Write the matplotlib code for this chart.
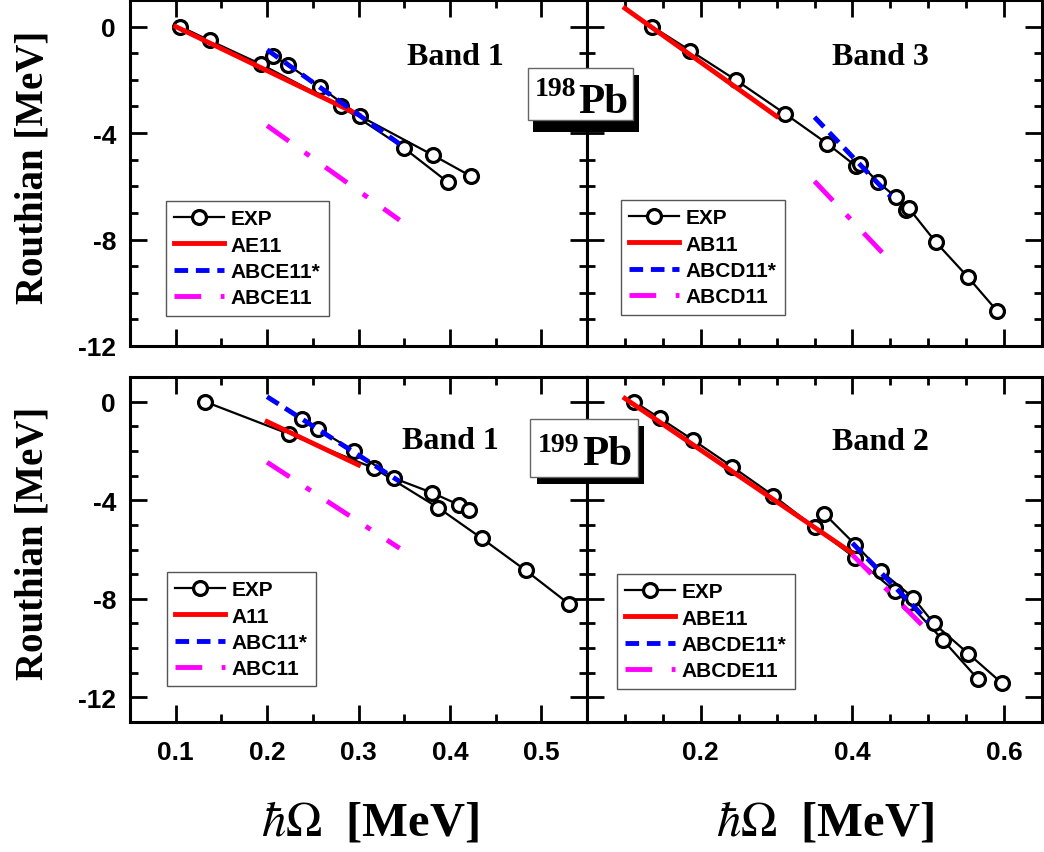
import numpy as np
import matplotlib
matplotlib.use("Agg")
import matplotlib.pyplot as plt
from matplotlib.patches import Rectangle
from matplotlib.ticker import MultipleLocator, FixedLocator

plt.rcParams['font.family'] = ['Liberation Sans', 'DejaVu Sans']
plt.rcParams['mathtext.fontset'] = 'stix'

# ---- 198Pb, Band 1 ----
a_exp1_x = [0.105, 0.137, 0.193, 0.281, 0.350, 0.398]
a_exp1_y = [0.0, -0.52, -1.41, -3.00, -4.57, -5.85]
a_exp2_x = [0.206, 0.223, 0.258, 0.302, 0.382, 0.423]
a_exp2_y = [-1.09, -1.44, -2.27, -3.37, -4.84, -5.62]
a_red_x, a_red_y = [0.10, 0.30], [0.0, -3.31]
a_blue_x, a_blue_y = [0.20, 0.345], [-0.87, -4.41]
a_mag_x, a_mag_y = [0.20, 0.345], [-3.72, -7.27]
a_labels = ['EXP', 'AE11', 'ABCE11*', 'ABCE11']

# ---- 198Pb, Band 3 ----
b_exp1_x = [0.136, 0.186, 0.247, 0.311, 0.367, 0.405, 0.410, 0.434, 0.458,
            0.470, 0.474, 0.510, 0.552, 0.591]
b_exp1_y = [0.0, -0.90, -2.02, -3.27, -4.40, -5.25, -5.15, -5.85, -6.42,
            -6.90, -6.81, -8.10, -9.40, -10.69]
b_exp2_x, b_exp2_y = [], []
b_red_x, b_red_y = [0.10, 0.30], [0.69, -3.37]
b_blue_x, b_blue_y = [0.35, 0.45], [-3.40, -6.37]
b_mag_x, b_mag_y = [0.35, 0.45], [-5.81, -8.81]
b_labels = ['EXP', 'AB11', 'ABCD11*', 'ABCD11']

# ---- 199Pb, Band 1 ----
c_exp1_x = [0.132, 0.2245, 0.317, 0.387, 0.435, 0.483, 0.530]
c_exp1_y = [0.0, -1.32, -2.70, -4.30, -5.55, -6.85, -8.20]
c_exp2_x = [0.238, 0.256, 0.295, 0.339, 0.380, 0.410, 0.421]
c_exp2_y = [-0.72, -1.12, -2.00, -3.11, -3.69, -4.19, -4.39]
c_red_x, c_red_y = [0.20, 0.30], [-0.81, -2.57]
c_blue_x, c_blue_y = [0.20, 0.345], [0.20, -3.24]
c_mag_x, c_mag_y = [0.20, 0.345], [-2.46, -5.95]
c_labels = ['EXP', 'A11', 'ABC11*', 'ABC11']

# ---- 199Pb, Band 2 ----
d_exp1_x = [0.112, 0.1465, 0.190, 0.2415, 0.2955, 0.350, 0.404, 0.4565,
            0.474, 0.519, 0.565]
d_exp1_y = [0.0, -0.68, -1.56, -2.64, -3.81, -5.10, -6.35, -7.70,
            -8.18, -9.66, -11.24]
d_exp2_x = [0.363, 0.404, 0.438, 0.480, 0.507, 0.553, 0.597]
d_exp2_y = [-4.55, -5.81, -6.89, -7.95, -8.99, -10.23, -11.42]
d_red_x, d_red_y = [0.10, 0.40], [0.13, -6.15]
d_blue_x, d_blue_y = [0.40, 0.50], [-5.74, -8.92]
d_mag_x, d_mag_y = [0.40, 0.50], [-6.22, -9.32]
d_labels = ['EXP', 'ABE11', 'ABCDE11*', 'ABCDE11']

W, H = 1044, 853
fig = plt.figure(figsize=(W / 100, H / 100), dpi=100)


def fx(px):
    return px / W


def fy(py):
    return 1 - py / H


ax_a = fig.add_axes([fx(130), fy(347), fx(587) - fx(130), fy(1) - fy(347)])
ax_b = fig.add_axes([fx(587), fy(347), fx(1042) - fx(587), fy(1) - fy(347)])
ax_c = fig.add_axes([fx(130), fy(723), fx(587) - fx(130), fy(378) - fy(723)])
ax_d = fig.add_axes([fx(587), fy(723), fx(1042) - fx(587), fy(378) - fy(723)])


def draw_panel(ax, exp1, exp2, red, blue, mag, labels, band, band_pos, leg_pos):
    mk = dict(color='black', lw=1.6, marker='o', ms=10, mfc='white',
              mec='black', mew=2.3, zorder=2)
    ax.plot(exp1[0], exp1[1], label=labels[0], **mk)
    if len(exp2[0]):
        ax.plot(exp2[0], exp2[1], **mk)
    ax.plot(red[0], red[1], color='#ff0000', lw=3.5, label=labels[1], zorder=3)
    ax.plot(blue[0], blue[1], color='#0000ff', lw=3.5, ls=(0, (2.8, 1.6)),
            label=labels[2], zorder=3)
    ax.plot(mag[0], mag[1], color='#ff00ff', lw=3.5, ls=(0, (5.5, 4, 1.2, 4)),
            label=labels[3], zorder=3)
    ax.text(band_pos[0], band_pos[1], band, transform=ax.transAxes,
            ha='center', va='baseline', fontsize=23, fontweight='bold',
            family='Liberation Serif')
    leg = ax.legend(loc='upper left', bbox_to_anchor=leg_pos, borderaxespad=0,
                    fancybox=False, framealpha=1, edgecolor='#555555',
                    handlelength=2.4, handletextpad=0.3, labelspacing=0.35,
                    borderpad=0.4, numpoints=1,
                    prop={'family': 'Liberation Sans', 'weight': 'bold', 'size': 15})
    leg.get_frame().set_linewidth(1.0)

    for s in ax.spines.values():
        s.set_linewidth(2.2)
    ax.tick_params(axis='both', which='both', direction='in', top=True,
                   right=True, width=2, labelsize=19)
    ax.tick_params(which='major', length=12)
    ax.tick_params(which='minor', length=6)
    ax.yaxis.set_major_locator(MultipleLocator(4))
    ax.yaxis.set_minor_locator(MultipleLocator(1))
    ax.tick_params(axis='y', pad=10)
    ax.tick_params(axis='x', pad=13)


draw_panel(ax_a, (a_exp1_x, a_exp1_y), (a_exp2_x, a_exp2_y), (a_red_x, a_red_y),
           (a_blue_x, a_blue_y), (a_mag_x, a_mag_y), a_labels, 'Band 1',
           (0.711, 0.815), (0.079, 0.419))
draw_panel(ax_b, (b_exp1_x, b_exp1_y), (b_exp2_x, b_exp2_y), (b_red_x, b_red_y),
           (b_blue_x, b_blue_y), (b_mag_x, b_mag_y), b_labels, 'Band 3',
           (0.646, 0.815), (0.075, 0.422))
draw_panel(ax_c, (c_exp1_x, c_exp1_y), (c_exp2_x, c_exp2_y), (c_red_x, c_red_y),
           (c_blue_x, c_blue_y), (c_mag_x, c_mag_y), c_labels, 'Band 1',
           (0.702, 0.794), (0.081, 0.435))
draw_panel(ax_d, (d_exp1_x, d_exp1_y), (d_exp2_x, d_exp2_y), (d_red_x, d_red_y),
           (d_blue_x, d_blue_y), (d_mag_x, d_mag_y), d_labels, 'Band 2',
           (0.646, 0.791), (0.066, 0.429))

for ax in (ax_a, ax_c):
    ax.set_xlim(0.05, 0.55)
    ax.xaxis.set_major_locator(MultipleLocator(0.1))
    ax.xaxis.set_minor_locator(MultipleLocator(0.05))
for ax in (ax_b, ax_d):
    ax.set_xlim(0.05, 0.65)
    ax.xaxis.set_major_locator(FixedLocator([0.2, 0.4, 0.6]))
    ax.xaxis.set_minor_locator(MultipleLocator(0.05))
    ax.tick_params(axis='y', labelleft=False)
for ax in (ax_a, ax_b):
    ax.set_ylim(-12, 1)
    ax.tick_params(axis='x', labelbottom=False)
for ax in (ax_c, ax_d):
    ax.set_ylim(-13, 1)

ax_c.set_xticks([0.1, 0.2, 0.3, 0.4, 0.5])
ax_c.set_xticklabels(['0.1', '0.2', '0.3', '0.4', '0.5'], fontweight='bold')
ax_d.set_xticks([0.2, 0.4, 0.6])
ax_d.set_xticklabels(['0.2', '0.4', '0.6'], fontweight='bold')
for ax in (ax_a, ax_c):
    ax.set_yticks([0, -4, -8, -12])
    ax.set_yticklabels(['0', '-4', '-8', '-12'], fontweight='bold')

# axis titles
serif = 'Liberation Serif'
fig.text(fx(33), fy(167), 'Routhian [MeV]', rotation=90, ha='center',
         va='center', fontsize=28, fontweight='bold', family=serif)
fig.text(fx(33), fy(543), 'Routhian [MeV]', rotation=90, ha='center',
         va='center', fontsize=28, fontweight='bold', family=serif)
fig.text(fx(370), fy(823), r'$\hbar\Omega$  [MeV]', ha='center', va='center',
         fontsize=35, fontweight='bold', family=serif)
fig.text(fx(825), fy(823), r'$\hbar\Omega$  [MeV]', ha='center', va='center',
         fontsize=35, fontweight='bold', family=serif)


# nucleus label boxes with shadow
def nucleus_box(box, shadow, mass, mass_pos, pb_pos):
    fig.add_artist(Rectangle((fx(shadow[0]), fy(shadow[3])),
                             fx(shadow[2]) - fx(shadow[0]), fy(shadow[1]) - fy(shadow[3]),
                             transform=fig.transFigure, facecolor='black',
                             edgecolor='none', zorder=10))
    fig.add_artist(Rectangle((fx(box[0]), fy(box[3])),
                             fx(box[2]) - fx(box[0]), fy(box[1]) - fy(box[3]),
                             transform=fig.transFigure, facecolor='white',
                             edgecolor='#666666', lw=1, zorder=11))
    fig.text(fx(mass_pos[0]), fy(mass_pos[1]), mass, ha='left', va='baseline',
             fontsize=20, fontweight='bold', family=serif, zorder=12)
    fig.text(fx(pb_pos[0]), fy(pb_pos[1]), 'Pb', ha='left', va='baseline',
             fontsize=31, fontweight='bold', family=serif, zorder=12)


nucleus_box((528, 69, 633, 121), (533, 76, 639, 133), '198', (535, 96), (578, 113))
nucleus_box((530, 420, 638, 478), (537, 427, 644, 485), '199', (538, 452), (582, 465))

fig.savefig('out.png', dpi=100)
